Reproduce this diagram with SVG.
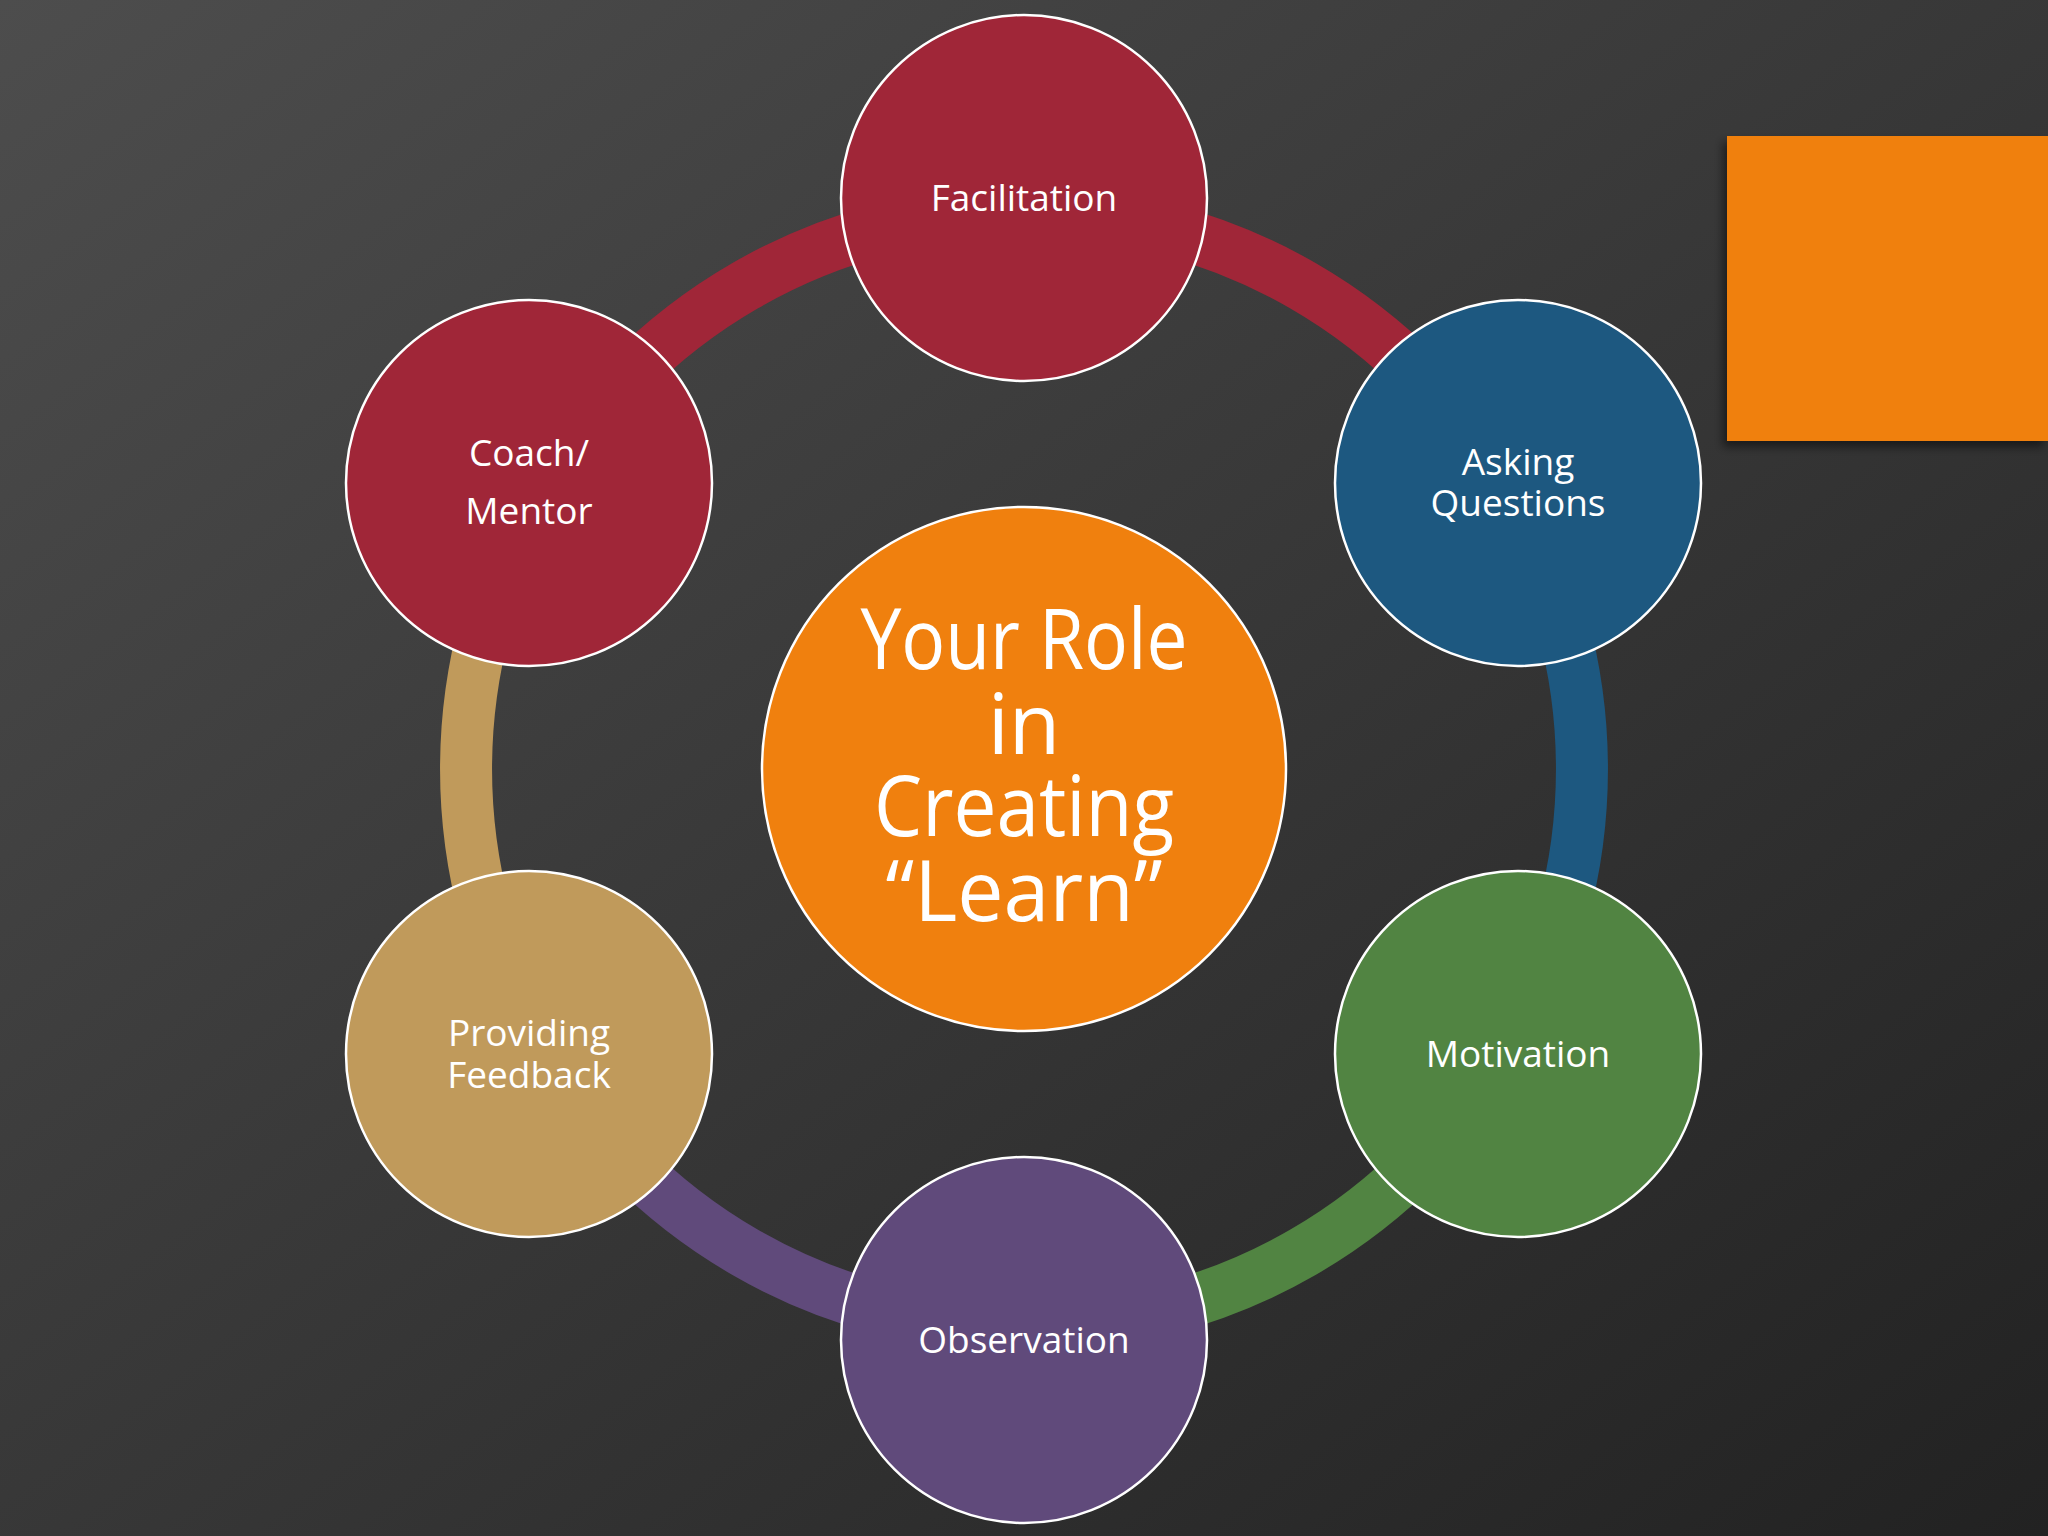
<svg xmlns="http://www.w3.org/2000/svg" width="2048" height="1536" viewBox="0 0 2048 1536">
<defs>
<linearGradient id="bg" x1="0" y1="0" x2="1" y2="1"><stop offset="0" stop-color="#4d4d4d"/><stop offset="1" stop-color="#222"/></linearGradient>
<filter id="sh"><feDropShadow dx="-4" dy="6" stdDeviation="5" flood-opacity="0.5"/></filter>
</defs>
<style>
.n{stroke:#fff;stroke-width:2.5}
.a{fill:none;stroke-width:52}
.t{font-family:"Open Sans","DejaVu Sans",sans-serif;fill:#fff;text-anchor:middle;font-size:37px}
.c{font-size:84px}
</style>
<rect width="2048" height="1536" fill="url(#bg)"/>
<rect x="1727" y="136" width="321" height="305" fill="#F0800E" filter="url(#sh)"/>
<g id="connectors">
<path class="a" stroke="#A02638" d="M540.8,490 A558,558 0 0 1 1024,211"/>
<path class="a" stroke="#A02638" d="M1024,211 A558,558 0 0 1 1507.2,490"/>
<path class="a" stroke="#1D5880" d="M1507.2,490 A558,558 0 0 1 1507.2,1048"/>
<path class="a" stroke="#518442" d="M1507.2,1048 A558,558 0 0 1 1024,1327"/>
<path class="a" stroke="#604A7B" d="M1024,1327 A558,558 0 0 1 540.8,1048"/>
<path class="a" stroke="#C09A5B" d="M540.8,1048 A558,558 0 0 1 540.8,490"/>
</g>
<g id="center"><circle class="n" cx="1024" cy="769" r="262" fill="#F0800E"/>
<text class="t c" x="1024" y="669" textLength="327" lengthAdjust="spacingAndGlyphs">Your Role</text><text class="t c" x="1024" y="754">in</text><text class="t c" x="1024" y="836" textLength="300" lengthAdjust="spacingAndGlyphs">Creating</text><text class="t c" x="1024" y="921" textLength="277" lengthAdjust="spacingAndGlyphs">“Learn”</text></g>
<g id="facilitation"><circle class="n" cx="1024" cy="198" r="183" fill="#A02638"/><text class="t" x="1024" y="211">Facilitation</text></g>
<g id="asking"><circle class="n" cx="1518" cy="483" r="183" fill="#1D5880"/><text class="t" x="1518" y="475">Asking</text><text class="t" x="1518" y="516">Questions</text></g>
<g id="motivation"><circle class="n" cx="1518" cy="1054" r="183" fill="#518442"/><text class="t" x="1518" y="1067">Motivation</text></g>
<g id="observation"><circle class="n" cx="1024" cy="1340" r="183" fill="#604A7B"/><text class="t" x="1024" y="1353">Observation</text></g>
<g id="feedback"><circle class="n" cx="529" cy="1054" r="183" fill="#C09A5B"/><text class="t" x="529" y="1046">Providing</text><text class="t" x="529" y="1088">Feedback</text></g>
<g id="coach"><circle class="n" cx="529" cy="483" r="183" fill="#A02638"/><text class="t" x="529" y="466">Coach/</text><text class="t" x="529" y="524">Mentor</text></g>
</svg>
